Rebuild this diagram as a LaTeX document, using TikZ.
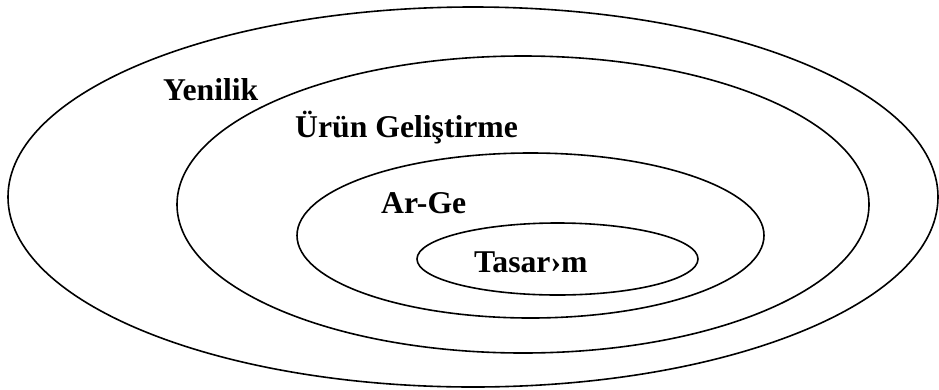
\documentclass[tikz,border=0pt]{standalone}
\usepackage{fontspec}
\setmainfont{Liberation Serif}
\begin{document}
\begin{tikzpicture}[x=1pt,y=-1pt,
  ring/.style={draw=black,line width=1.6pt},
  lbl/.style={anchor=base west,inner sep=0pt,font=\fontsize{31.7}{38}\selectfont\bfseries}]
\useasboundingbox (0,0) rectangle (939,389);
\draw[ring] (473,197) ellipse [x radius=465,y radius=190];
\draw[ring] (523,204.5) ellipse [x radius=346,y radius=148.5];
\draw[ring] (530.5,235.5) ellipse [x radius=233.5,y radius=82.5];
\draw[ring] (557.5,259) ellipse [x radius=140.5,y radius=36];
\node[lbl] (yenilik) at (163,100.5) {Yenilik};
\node[lbl] (urun) at (295,137) {Ürün Geliştirme};
\node[lbl] (arge) at (381,213) {Ar-Ge};
\node[lbl] (tasarim) at (474,272) {Tasar›m};
\end{tikzpicture}
\end{document}
